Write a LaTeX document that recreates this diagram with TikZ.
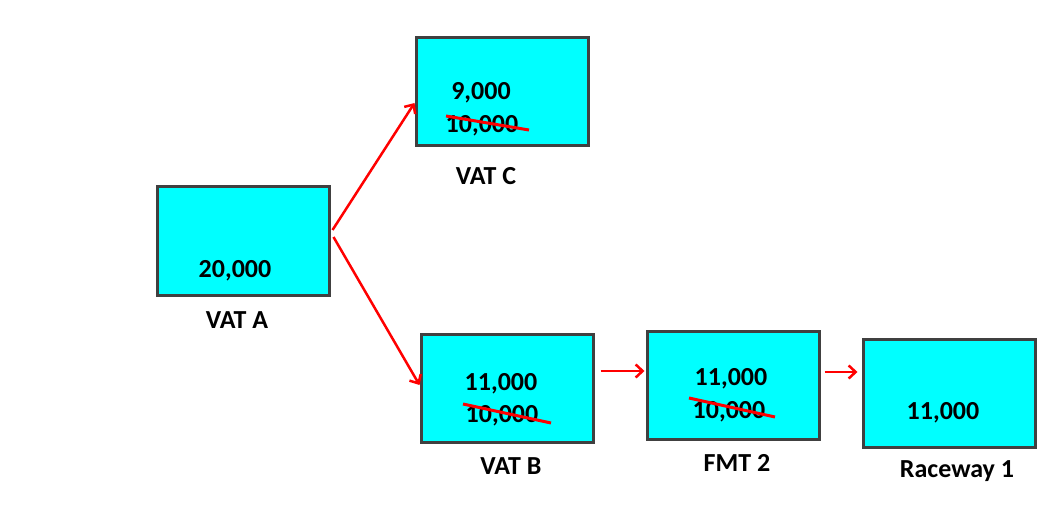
\documentclass[tikz,border=0pt]{standalone}
\usepackage{fontspec}
\setmainfont{Carlito}
\usetikzlibrary{arrows.meta,calc}
\definecolor{tankcyan}{RGB}{0,255,255}
\definecolor{tankedge}{RGB}{64,64,64}
\definecolor{arrred}{RGB}{255,0,0}
\begin{document}
\begin{tikzpicture}[x=1pt,y=-1pt,
  tank/.style={draw=tankedge,line width=3pt,fill=tankcyan,minimum width=172pt,minimum height=108pt,inner sep=0pt},
  txt/.style={font=\fontsize{26}{30}\selectfont\bfseries,inner sep=0pt,text=black},
  arr/.style={draw=arrred,line width=2.5pt,-{Straight Barb[length=7pt,width=13pt,line width=2.5pt]}},
  strike/.style={draw=arrred,line width=3pt}]
\useasboundingbox (0,0) rectangle (1058,524);
\node[tank] (C) at (502,92) {};
\node[tank] (A) at (243,241) {};
\node[tank] (B) at (507,388) {};
\node[tank] (F) at (733,385) {};
\node[tank] (R) at (949,393) {};
% texts
\node[txt] (c1) at (481,93) {9,000};
\node[txt] (c2) at (482,126) {10,000};
\node[txt] (cl) at (486,176) {VAT C};
\node[txt] (a1) at (235,271) {20,000};
\node[txt] (al) at (237,320) {VAT A};
\node[txt] (b1) at (501,384) {11,000};
\node[txt] (b2) at (502,416) {10,000};
\node[txt] (bl) at (511,466) {VAT B};
\node[txt] (f1) at (731,379) {11,000};
\node[txt] (f2) at (729,412) {10,000};
\node[txt] (fl) at (737,463) {FMT 2};
\node[txt] (r1) at (943,413) {11,000};
\node[txt] (rl) at (957,471) {Raceway 1};
% strikes
\draw[strike] ($(c2)+(-36,-10)$) -- ($(c2)+(47,4)$);
\draw[strike] ($(b2)+(-39,-12)$) -- ($(b2)+(49,7)$);
\draw[strike] ($(f2)+(-40,-14)$) -- ($(f2)+(46,5)$);
% arrows
\draw[arr] ($(A.east)+(2,-11)$) -- ($(C.west)+(0,11)$);
\draw[arr] ($(A.east)+(3,-4)$) -- ($(B.west)+(0,-3)$);
\draw[arr] ($(B.east)+(6,-17)$) -- ($(F.west)+(-1,-14)$);
\draw[arr] ($(F.east)+(4,-13)$) -- ($(R.west)+(-4,-21)$);
\end{tikzpicture}
\end{document}
